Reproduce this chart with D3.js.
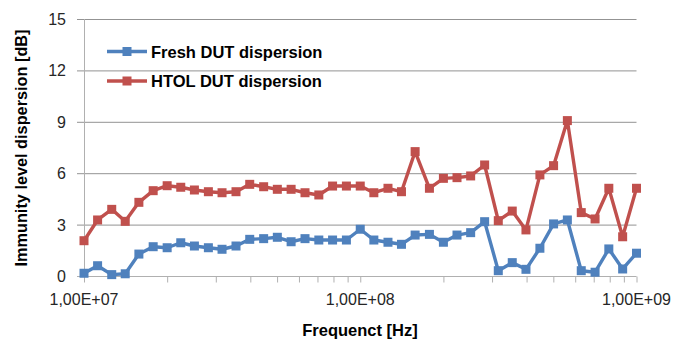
<!DOCTYPE html>
<html><head><meta charset="utf-8">
<script src="https://cdn.jsdelivr.net/npm/d3@7"></script>
<style>body{margin:0;background:#fff;}svg{display:block;font-family:"Liberation Sans",Arial,sans-serif;}</style>
</head><body><svg id="c" width="673" height="342"></svg>
<script>
const frequencies = [1.00e7,1.12e7,1.26e7,1.41e7,1.58e7,1.78e7,2.00e7,2.24e7,2.51e7,2.82e7,
  3.16e7,3.55e7,3.98e7,4.47e7,5.01e7,5.62e7,6.31e7,7.08e7,7.94e7,8.91e7,
  1.00e8,1.12e8,1.26e8,1.41e8,1.58e8,1.78e8,2.00e8,2.24e8,2.51e8,2.82e8,
  3.16e8,3.55e8,3.98e8,4.47e8,5.01e8,5.62e8,6.31e8,7.08e8,7.94e8,8.91e8,1.00e9];
const freshValues = [0.16,0.60,0.08,0.13,1.28,1.71,1.65,1.94,1.75,1.65,
  1.56,1.75,2.14,2.18,2.26,2.00,2.18,2.10,2.10,2.10,
  2.73,2.10,1.97,1.85,2.39,2.43,1.97,2.39,2.53,3.17,
  0.31,0.78,0.39,1.62,3.04,3.27,0.31,0.22,1.58,0.41,1.33];
const htolValues = [2.06,3.27,3.89,3.19,4.30,4.98,5.27,5.18,5.02,4.92,
  4.86,4.92,5.35,5.21,5.06,5.06,4.86,4.73,5.25,5.25,
  5.25,4.86,5.12,4.92,7.26,5.12,5.70,5.74,5.84,6.48,
  3.23,3.79,2.69,5.90,6.44,9.07,3.70,3.33,5.12,2.29,5.12];
const yTicks = [0,3,6,9,12,15];
const xMajorTicks = [1e7,1e8,1e9];
const xTickLabels = ["1,00E+07","1,00E+08","1,00E+09"];
const seriesNames = ["Fresh DUT dispersion","HTOL DUT dispersion"];
const seriesColors = ["#4F81BD","#C0504D"];

const svg = d3.select("#c");
const x = d3.scaleLog().domain([1e7,1e9]).range([84,636.5]);
const y = d3.scaleLinear().domain([0,15]).range([276,19]);

// gridlines
svg.append("g").selectAll("line").data(yTicks.filter(d=>d>0)).join("line")
  .attr("x1",77).attr("x2",636.5).attr("y1",d=>y(d)+0.5).attr("y2",d=>y(d)+0.5)
  .attr("stroke","#939393").attr("stroke-width",1);
// y axis line
svg.append("line").attr("x1",84.5).attr("x2",84.5).attr("y1",y(15)).attr("y2",y(0)+0.5)
  .attr("stroke","#b0b0b0");
svg.append("line").attr("x1",77).attr("x2",84).attr("y1",y(0)+0.5).attr("y2",y(0)+0.5).attr("stroke","#b0b0b0");
// x axis
const xAxis = d3.axisBottom(x).tickValues(x.ticks()).tickSize(6).tickFormat("");
const gx = svg.append("g").attr("transform",`translate(0,${y(0)+0.5})`).call(xAxis);
gx.select(".domain").attr("stroke","#b0b0b0").attr("d",`M84,0H636.5`);
gx.selectAll(".tick line").attr("stroke","#b0b0b0");
// x tick labels
svg.append("g").selectAll("text").data(xMajorTicks).join("text")
  .attr("x",d=>x(d)).attr("y",305).attr("text-anchor","middle")
  .attr("font-size",16).attr("fill","#262626").text((d,i)=>xTickLabels[i]);
// y tick labels
svg.append("g").selectAll("text").data(yTicks).join("text")
  .attr("x",66).attr("y",d=>y(d)+6).attr("text-anchor","end")
  .attr("font-size",16).attr("fill","#262626").text(d=>d);
// titles
svg.append("text").attr("x",360).attr("y",336).attr("text-anchor","middle")
  .attr("font-size",16.5).attr("font-weight","bold").attr("fill","#000").text("Frequenct [Hz]");
svg.append("text").attr("transform","translate(27,148) rotate(-90)").attr("text-anchor","middle")
  .attr("font-size",16.3).attr("font-weight","bold").attr("fill","#000").text("Immunity level dispersion [dB]");

// series
const series = [freshValues, htolValues];
const line = d3.line().x((d,i)=>x(frequencies[i])).y(d=>y(d));
series.forEach((vals,k)=>{
  const g = svg.append("g");
  g.append("path").datum(vals).attr("d",line).attr("fill","none")
    .attr("stroke",seriesColors[k]).attr("stroke-width",3.4).attr("stroke-linejoin","round");
  g.selectAll("rect").data(vals).join("rect")
    .attr("x",(d,i)=>x(frequencies[i])-4.5).attr("y",d=>y(d)-4.5)
    .attr("width",9).attr("height",9).attr("fill",seriesColors[k]);
});

// legend
const legY = [51.5, 81];
seriesNames.forEach((name,k)=>{
  const g = svg.append("g");
  g.append("line").attr("x1",107).attr("x2",147).attr("y1",legY[k]).attr("y2",legY[k])
    .attr("stroke",seriesColors[k]).attr("stroke-width",3.4);
  g.append("rect").attr("x",127-4.5).attr("y",legY[k]-4.5).attr("width",9).attr("height",9).attr("fill",seriesColors[k]);
  g.append("text").attr("x",151).attr("y",legY[k]+6).attr("font-size",16.5).attr("font-weight","bold")
    .attr("fill","#000").text(name);
});
</script></body></html>
